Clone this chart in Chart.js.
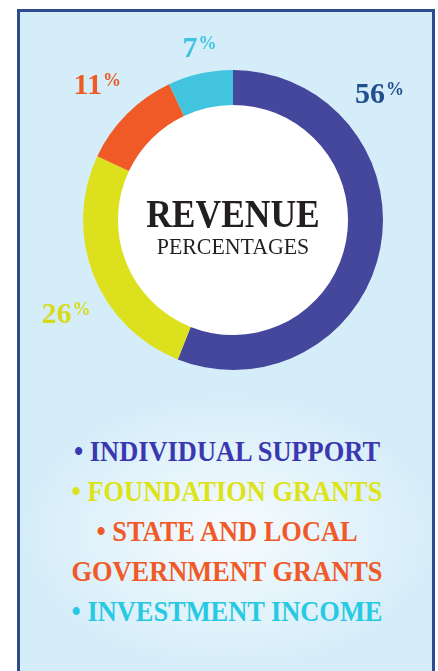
<!DOCTYPE html>
<html>
<head>
<meta charset="utf-8">
<script src="https://cdn.jsdelivr.net/npm/chart.js@4/dist/chart.umd.min.js"></script>
<style>
  html, body { margin: 0; padding: 0; background: #ffffff; width: 438px; height: 671px; overflow: hidden; }
  #frame {
    position: absolute; left: 17px; top: 9px; width: 412px; height: 700px;
    border: 3px solid #2f4b8f;
    background:
      radial-gradient(ellipse 210px 140px at 210px 520px, rgba(255,255,255,0.8), rgba(255,255,255,0) 100%),
      #d5edf9;
  }
  #chartWrap { position: absolute; left: 0; top: 0; width: 438px; height: 400px; }
  .center { position: absolute; left: 0; width: 466px; text-align: center; font-family: 'Liberation Serif', serif; line-height: 1; color: #231f20; white-space: nowrap; transform-origin: 233px 0; }
  #c1 { top: 194px; font-size: 39px; font-weight: bold; transform: scaleX(0.91); }
  #c2 { top: 235px; font-size: 23px; transform: scaleX(0.95); }
  #legend { position: absolute; left: 27px; top: 431px; width: 400px; text-align: center; font-family: 'Liberation Serif', serif; font-weight: bold; font-size: 29px; line-height: 40px; transform: scaleX(0.91); transform-origin: 200px 0; }
  #legend div { margin: 0 auto; width: 370px; }
</style>
</head>
<body>
<div id="frame"></div>
<div id="chartWrap"><canvas id="chart"></canvas></div>
<div class="center" id="c1">REVENUE</div>
<div class="center" id="c2">PERCENTAGES</div>
<div id="legend"></div>
<script>
const categories = ['INDIVIDUAL SUPPORT', 'FOUNDATION GRANTS', 'STATE AND LOCAL GOVERNMENT GRANTS', 'INVESTMENT INCOME'];
const values = [56, 26, 11, 7];
const sliceColors = ['#45479c', '#dde11d', '#ef5a26', '#42c4df'];
const labelColors = ['#22508f', '#d8da1c', '#ee5a24', '#3ec4e0'];
const legendColors = ['#3a38b0', '#dde31a', '#f05a28', '#27c9e3'];

// legend from categories
const legend = document.getElementById('legend');
categories.forEach((c, i) => {
  const d = document.createElement('div');
  d.style.color = legendColors[i];
  d.textContent = '\u2022 ' + c;
  legend.appendChild(d);
});

const holeFill = {
  id: 'holeFill',
  beforeDatasetsDraw(chart) {
    const arc = chart.getDatasetMeta(0).data[0];
    if (!arc) return;
    const p = arc.getProps(['x', 'y', 'innerRadius'], true);
    const ctx = chart.ctx;
    ctx.save();
    ctx.fillStyle = '#ffffff';
    ctx.beginPath();
    ctx.arc(p.x, p.y, p.innerRadius + 1, 0, Math.PI * 2);
    ctx.fill();
    ctx.restore();
  }
};

const pctLabels = {
  id: 'pctLabels',
  afterDatasetsDraw(chart, args, opts) {
    const ctx = chart.ctx;
    const meta = chart.getDatasetMeta(0);
    meta.data.forEach((arc, i) => {
      const p = arc.getProps(['x', 'y', 'outerRadius', 'startAngle', 'endAngle'], true);
      const mid = (p.startAngle + p.endAngle) / 2;
      const ang = opts.angles[i] != null ? (opts.angles[i] - 90) * Math.PI / 180 : mid;
      const dist = p.outerRadius + opts.offsets[i];
      const cx = p.x + Math.cos(ang) * dist;
      const cy = p.y + Math.sin(ang) * dist;
      const num = String(chart.data.datasets[0].data[i]);
      ctx.save();
      ctx.fillStyle = opts.colors[i];
      ctx.textBaseline = 'alphabetic';
      ctx.textAlign = 'left';
      ctx.font = 'bold 30px "Liberation Serif"';
      const w1 = ctx.measureText(num).width;
      ctx.font = 'bold 18px "Liberation Serif"';
      const w2 = ctx.measureText('%').width;
      const x0 = cx - (w1 + w2 + 1) / 2;
      ctx.font = 'bold 30px "Liberation Serif"';
      ctx.fillText(num, x0, cy + 10);
      ctx.font = 'bold 18px "Liberation Serif"';
      ctx.fillText('%', x0 + w1 + 1, cy + 2);
      ctx.restore();
    });
  }
};

new Chart(document.getElementById('chart'), {
  type: 'doughnut',
  data: {
    labels: categories,
    datasets: [{ data: values, backgroundColor: sliceColors, borderWidth: 0, hoverOffset: 0 }]
  },
  options: {
    responsive: true,
    maintainAspectRatio: false,
    animation: false,
    cutout: '76.7%',
    layout: { padding: { left: 83, top: 70, right: 55, bottom: 30 } },
    plugins: {
      legend: { display: false },
      tooltip: { enabled: false },
      pctLabels: {
        colors: labelColors,
        angles: [49, 241, 315, 349],
        offsets: [44, 41, 42, 26]
      }
    }
  },
  plugins: [holeFill, pctLabels]
});
</script>
</body>
</html>
